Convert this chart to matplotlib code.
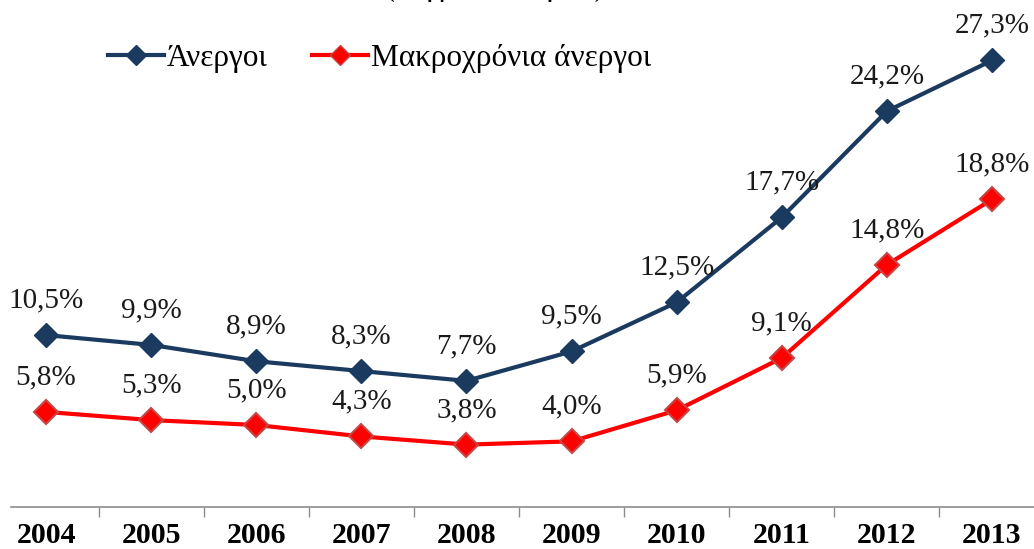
# Ποσοστά ανεργίας και μακροχρόνιας ανεργίας 2004-2013
import matplotlib
matplotlib.use('Agg')
import matplotlib.pyplot as plt
from matplotlib.lines import Line2D

plt.rcParams['font.family'] = ['Liberation Serif', 'DejaVu Serif']

# Δεδομένα
years = ['2004', '2005', '2006', '2007', '2008', '2009', '2010', '2011', '2012', '2013']
anergoi = [10.5, 9.9, 8.9, 8.3, 7.7, 9.5, 12.5, 17.7, 24.2, 27.3]
makroxronia = [5.8, 5.3, 5.0, 4.3, 3.8, 4.0, 5.9, 9.1, 14.8, 18.8]
series_names = ['Άνεργοι', 'Μακροχρόνια άνεργοι']
title_text = '(% εργατικού δυναμικού)'

blue = '#1B3A5F'
red = '#FF0000'

fig = plt.figure(figsize=(10.34, 5.49), dpi=100)
ax = fig.add_axes([0, 0.077, 1, 0.923])

x = list(range(len(years)))
ax.plot(x, anergoi, color=blue, lw=3, marker='D', ms=12.5,
        mfc=blue, mec=blue, zorder=3)
ax.plot(x, makroxronia, color=red, lw=3, marker='D', ms=12.5,
        mfc=red, mec='#C84545', mew=1.5, zorder=3)

# Ετικέτες τιμών
for xi, v in zip(x, anergoi):
    ax.annotate(f'{v:.1f}%'.replace('.', ','), (xi, v), xytext=(0, 25),
                textcoords='offset points', ha='center', va='center',
                fontsize=21, color='#1a1a1a')
for xi, v in zip(x, makroxronia):
    ax.annotate(f'{v:.1f}%'.replace('.', ','), (xi, v), xytext=(0, 25),
                textcoords='offset points', ha='center', va='center',
                fontsize=21, color='#1a1a1a')

ax.set_xlim(-0.438, 9.40)
ax.set_ylim(0, 31.0)

# Άξονες
for s in ['top', 'right', 'left']:
    ax.spines[s].set_visible(False)
ax.spines['bottom'].set_color('#8c8c8c')
ax.spines['bottom'].set_linewidth(1.2)
ax.spines['bottom'].set_bounds(-0.33, 9.40)
ax.set_yticks([])
ax.set_xticks(x)
ax.set_xticklabels(years, fontsize=21.5, fontweight='bold')
ax.tick_params(axis='x', which='major', length=0, pad=11)
ax.set_xticks([i + 0.5 for i in range(9)], minor=True)
ax.tick_params(axis='x', which='minor', length=7, width=1, color='#8c8c8c')

# Υπόμνημα
handles = [Line2D([], [], color=blue, lw=3, marker='D', ms=10, mfc=blue, mec=blue),
           Line2D([], [], color=red, lw=3, marker='D', ms=10, mfc=red, mec='#C84545')]
ax.legend(handles, series_names, loc='center left', bbox_to_anchor=(0.104, 0.885),
          ncol=2, frameon=False, fontsize=22.5, handlelength=1.8, handletextpad=0.1,
          columnspacing=1.4, borderaxespad=0, borderpad=0)

# Τίτλος (κομμένος στο πάνω μέρος)
fig.text(0.478, 1.004, title_text, ha='center', va='baseline',
         fontsize=14, fontweight='bold')

fig.savefig('out.png', dpi=100)
